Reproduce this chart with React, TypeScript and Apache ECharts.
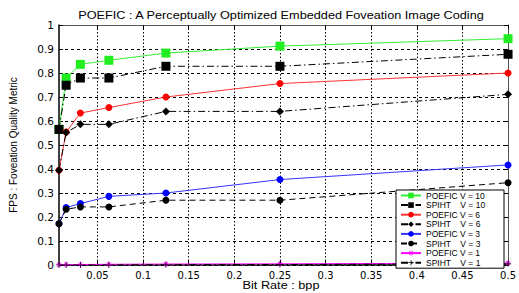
import React, { useEffect, useRef } from "react";
import * as echarts from "echarts";

const bitRates = [0.0078125, 0.015625, 0.03125, 0.0625, 0.125, 0.25, 0.5];
const xTickValues = [0.05, 0.1, 0.15, 0.2, 0.25, 0.3, 0.35, 0.4, 0.45, 0.5];
const xTickLabels = ["0.05", "0.1", "0.15", "0.2", "0.25", "0.3", "0.35", "0.4", "0.45", "0.5"];
const yTickLabels = ["0", "0.1", "0.2", "0.3", "0.4", "0.5", "0.6", "0.7", "0.8", "0.9", "1"];

const poefic10 = [0.565, 0.779, 0.836, 0.853, 0.883, 0.912, 0.943];
const spiht10 = [0.565, 0.749, 0.779, 0.779, 0.828, 0.828, 0.878];
const poefic6 = [0.395, 0.554, 0.633, 0.656, 0.7, 0.756, 0.8];
const spiht6 = [0.395, 0.552, 0.586, 0.586, 0.64, 0.64, 0.711];
const poefic3 = [0.172, 0.239, 0.256, 0.286, 0.3, 0.356, 0.417];
const spiht3 = [0.172, 0.232, 0.242, 0.242, 0.27, 0.27, 0.343];
const poefic1 = [0.001, 0.002, 0.002, 0.003, 0.004, 0.005, 0.008];
const spiht1 = [0, 0, 0, 0, 0.001, 0.002, 0.005];

const seriesNames = [
  "POEFIC V = 10",
  "SPIHT    V = 10",
  "POEFIC V = 6",
  "SPIHT    V = 6",
  "POEFIC V = 3",
  "SPIHT    V = 3",
  "POEFIC V = 1",
  "SPIHT    V = 1",
];

const titleText = "POEFIC : A Perceptually Optimized Embedded Foveation Image Coding";
const xAxisTitle = "Bit Rate : bpp";
const yAxisTitle = "FPS : Foveation Quality Metric";

const PLUS =
  "path://M-1,-0.12 L1,-0.12 L1,0.12 L-1,0.12 Z M-0.12,-1 L0.12,-1 L0.12,1 L-0.12,1 Z";
const STAR =
  "path://M-1,-0.12 L1,-0.12 L1,0.12 L-1,0.12 Z M-0.12,-1 L0.12,-1 L0.12,1 L-0.12,1 Z M-0.78,-0.62 L-0.62,-0.78 L0.78,0.62 L0.62,0.78 Z M0.62,-0.78 L0.78,-0.62 L-0.62,0.78 L-0.78,0.62 Z";

const FONT = "Liberation Sans, Arial, sans-serif";
const WIDE = "DejaVu Sans, Verdana, sans-serif";

function mk(
  name: string,
  values: number[],
  color: string,
  markColor: string,
  symbol: string,
  size: number,
  lineType: any
) {
  return {
    name,
    type: "line",
    data: bitRates.map((x, i) => [x, values[i]]),
    symbol,
    symbolSize: size,
    showAllSymbol: true,
    lineStyle: { color, width: 1, type: lineType },
    itemStyle: { color: markColor, borderWidth: 0 },
    emphasis: { disabled: true },
  };
}

export default function App() {
  const ref = useRef<HTMLDivElement>(null);
  useEffect(() => {
    if (!ref.current) return;
    const chart = echarts.init(ref.current, undefined, { renderer: "svg" });
    const dashDot = [7, 3, 1.5, 3];
    chart.setOption({
      animation: false,
      backgroundColor: "#ffffff",
      graphic: [
        {
          type: "text",
          x: 281,
          y: 15.5,
          scaleX: 1.27,
          style: {
            text: titleText,
            fontSize: 10,
            fontFamily: FONT,
            fill: "#000",
            textAlign: "center",
            textVerticalAlign: "middle",
          },
        },
        {
          type: "text",
          x: 281,
          y: 286,
          scaleX: 1.27,
          style: {
            text: xAxisTitle,
            fontSize: 10,
            fontFamily: FONT,
            fill: "#000",
            textAlign: "center",
            textVerticalAlign: "middle",
          },
        },
      ],
      grid: { left: 54, right: 8, top: 25, bottom: 28, containLabel: false },
      legend: {
        orient: "vertical",
        left: 396,
        top: 190,
        itemWidth: 20,
        itemHeight: 7,
        itemGap: 0.6,
        padding: [1, 4, 1, 4],
        backgroundColor: "#ffffff",
        borderColor: "#000",
        borderWidth: 1,
        borderRadius: 0,
        textStyle: {
          fontSize: 8.5,
          lineHeight: 8,
          width: 74,
          overflow: "none",
          color: "#000",
          fontFamily: FONT,
        },
        data: seriesNames,
      },
      xAxis: [
        {
          type: "value",
          min: bitRates[0],
          max: 0.5,
          axisLine: { show: true, onZero: false, lineStyle: { color: "#000", width: 1.5 } },
          axisTick: { show: true, inside: true, length: 4, customValues: xTickValues, lineStyle: { color: "#000" } },
          axisLabel: {
            show: true,
            customValues: xTickValues,
            formatter: (v: number) => xTickLabels[xTickValues.findIndex((t) => Math.abs(t - v) < 1e-9)] ?? "",
            fontSize: 10,
            color: "#000",
            fontFamily: WIDE,
            margin: 5,
          },
          splitLine: { show: true, lineStyle: { color: "#000", type: [1.5, 2], width: 1 } },
        },
        {
          type: "value",
          position: "top",
          min: bitRates[0],
          max: 0.5,
          axisLine: { show: true, onZero: false, lineStyle: { color: "#555", width: 1 } },
          axisTick: { show: true, inside: true, length: 4, customValues: xTickValues, lineStyle: { color: "#000" } },
          axisLabel: { show: false },
          splitLine: { show: false },
        },
      ],
      yAxis: [
        {
          type: "value",
          min: 0,
          max: 1,
          interval: 0.1,
          name: yAxisTitle,
          nameLocation: "middle",
          nameGap: 41,
          nameTextStyle: { fontSize: 10, color: "#000", fontFamily: FONT },
          axisLine: { show: true, onZero: false, lineStyle: { color: "#000", width: 1.5 } },
          axisTick: { show: true, inside: true, length: 4, lineStyle: { color: "#000" } },
          axisLabel: {
            fontSize: 10.5,
            color: "#000",
            fontFamily: WIDE,
            margin: 5,
            formatter: (v: number) => yTickLabels[Math.round(v * 10)] ?? "",
          },
          splitLine: { show: true, lineStyle: { color: "#000", type: [3, 3], width: 1 } },
        },
        {
          type: "value",
          position: "right",
          min: 0,
          max: 1,
          interval: 0.1,
          axisLine: { show: true, onZero: false, lineStyle: { color: "#555", width: 1 } },
          axisTick: { show: true, inside: true, length: 4, lineStyle: { color: "#000" } },
          axisLabel: { show: false },
          splitLine: { show: false },
        },
      ],
      series: [
        mk(seriesNames[0], poefic10, "#33ee33", "#22ee22", "rect", 9, "solid"),
        mk(seriesNames[1], spiht10, "#000", "#000", "rect", 9, dashDot),
        mk(seriesNames[2], poefic6, "#ff3333", "#ff0000", "circle", 7, "solid"),
        mk(seriesNames[3], spiht6, "#000", "#000", "diamond", 8, dashDot),
        mk(seriesNames[4], poefic3, "#3333ff", "#0000ff", "circle", 7, "solid"),
        mk(seriesNames[5], spiht3, "#000", "#000", "circle", 7, [6, 4]),
        mk(seriesNames[6], poefic1, "#ff00ff", "#ff00ff", STAR, 6, "solid"),
        mk(seriesNames[7], spiht1, "#000", "#000", PLUS, 6, dashDot),
      ],
    });
    return () => chart.dispose();
  }, []);
  return <div ref={ref} style={{ width: 519, height: 293, position: "absolute", left: 0, top: 0 }} />;
}
